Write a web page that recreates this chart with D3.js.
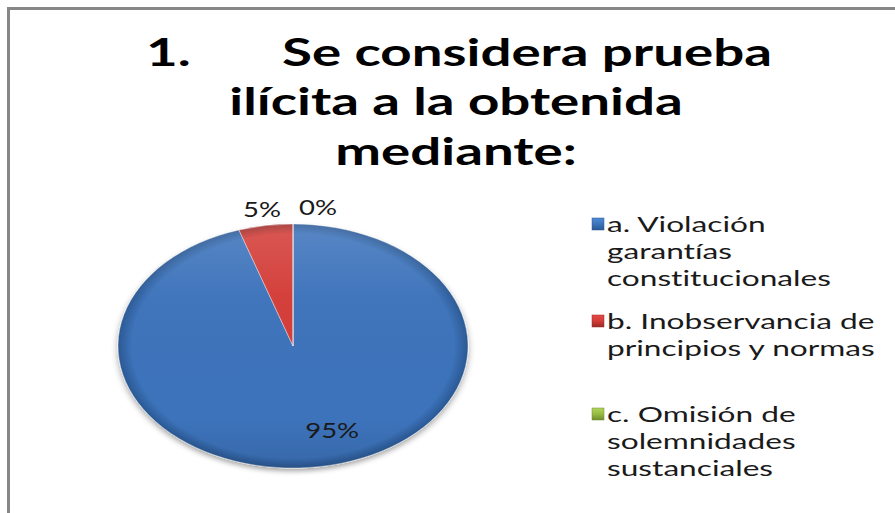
<!DOCTYPE html>
<meta charset="utf-8">
<head>
<script src="https://d3js.org/d3.v7.min.js"></script>
<style>
  body { margin: 0; background: #fff; }
  text { font-family: Lato, "Open Sans", sans-serif; font-variant-ligatures: none; }
</style>
</head>
<body>
<svg id="chart" width="895" height="513"></svg>
<script>
// data
var categories = ["a. Violación garantías constitucionales",
                  "b. Inobservancia de principios y normas",
                  "c. Omisión de solemnidades sustanciales"];
var legendLines = [["a. Violación", "garantías", "constitucionales"],
                   ["b. Inobservancia de", "principios y normas"],
                   ["c. Omisión de", "solemnidades", "sustanciales"]];
var values = [95, 5, 0];
var percentLabels = ["95%", "5%", "0%"];
var titleLines = [["1.", "Se considera prueba"], ["ilícita a la obtenida"], ["mediante:"]];

// colours: [light, mid, dark]
var colors = [["#4d8bd6", "#3c73bb", "#2a5893"],
              ["#e54a45", "#d33c37", "#9a2a27"],
              ["#b3d45c", "#98bb45", "#6f8d2c"]];

var svg = d3.select("#chart");
var defs = svg.append("defs");

// the source picture is stretched sideways; work out a horizontal scale for a font
function stretch(sample, size, weight, target) {
  var t = svg.append("text").attr("font-size", size).attr("font-weight", weight).text(sample);
  var w = t.node().getComputedTextLength();
  t.remove();
  return target / w;
}
var titleSX = stretch("Se considera prueba", 38, "bold", 490);
var legendSX = stretch("constitucionales", 22, "normal", 224);
var labelSX = stretch("95%", 21, "normal", 54);

// frame
svg.append("path")
  .attr("d", "M8.5,520 V8.5 H900")
  .attr("fill", "none")
  .attr("stroke", "#878787")
  .attr("stroke-width", 3);

// title
var title = svg.append("g");
var titleY = [66, 115, 165];
titleLines.forEach(function(line, i) {
  if (line.length > 1) {
    title.append("text")
      .attr("transform", "translate(146," + titleY[i] + ") scale(" + titleSX + ",1)")
      .attr("font-size", 38).attr("font-weight", "bold").attr("fill", "#000")
      .text(line[0]);
    title.append("text")
      .attr("transform", "translate(282," + titleY[i] + ") scale(" + titleSX + ",1)")
      .attr("font-size", 38).attr("font-weight", "bold").attr("fill", "#000")
      .text(line[1]);
  } else {
    title.append("text")
      .attr("transform", "translate(456," + titleY[i] + ") scale(" + titleSX + ",1)")
      .attr("text-anchor", "middle")
      .attr("font-size", 38).attr("font-weight", "bold").attr("fill", "#000")
      .text(line[0]);
  }
});

// pie
var cx = 293, cy = 346, rx = 175, ry = 122;
var pie = d3.pie().sort(null).value(function(d) { return d; });
var arcs = pie(values);
var arc = d3.arc().innerRadius(0).outerRadius(ry);

var shadow = defs.append("filter").attr("id", "shadow")
  .attr("x", "-20%").attr("y", "-20%").attr("width", "140%").attr("height", "140%");
shadow.append("feDropShadow").attr("dx", 0).attr("dy", 3).attr("stdDeviation", 2.5)
  .attr("flood-color", "#000").attr("flood-opacity", 0.35);

colors.forEach(function(c, i) {
  var rg = defs.append("radialGradient").attr("id", "rim" + i)
    .attr("gradientUnits", "userSpaceOnUse").attr("cx", 0).attr("cy", 0).attr("r", ry);
  rg.append("stop").attr("offset", 0).attr("stop-color", c[1]);
  rg.append("stop").attr("offset", 0.92).attr("stop-color", c[1]);
  rg.append("stop").attr("offset", 1).attr("stop-color", c[2]);
  var lg = defs.append("linearGradient").attr("id", "key" + i)
    .attr("x1", 0).attr("y1", 0).attr("x2", 0).attr("y2", 1);
  lg.append("stop").attr("offset", 0).attr("stop-color", c[0]);
  lg.append("stop").attr("offset", 0.5).attr("stop-color", c[1]);
  lg.append("stop").attr("offset", 1).attr("stop-color", c[2]);
});

var hl = defs.append("linearGradient").attr("id", "highlight")
  .attr("gradientUnits", "userSpaceOnUse").attr("x1", 0).attr("y1", -ry).attr("x2", 0).attr("y2", ry);
hl.append("stop").attr("offset", 0).attr("stop-color", "#fff").attr("stop-opacity", 0.14);
hl.append("stop").attr("offset", 0.3).attr("stop-color", "#fff").attr("stop-opacity", 0.02);
hl.append("stop").attr("offset", 0.8).attr("stop-color", "#000").attr("stop-opacity", 0);
hl.append("stop").attr("offset", 1).attr("stop-color", "#000").attr("stop-opacity", 0.1);

var pieG = svg.append("g")
  .attr("transform", "translate(" + cx + "," + cy + ") scale(" + (rx / ry) + ",1)");

pieG.append("g").attr("filter", "url(#shadow)")
  .selectAll("path")
  .data(arcs)
  .enter()
  .append("path")
  .attr("d", arc)
  .attr("fill", function(d, i) { return "url(#rim" + i + ")"; })
  .attr("stroke", "rgba(255,255,255,0.4)")
  .attr("stroke-width", 1)
  .attr("vector-effect", "non-scaling-stroke");

pieG.selectAll(".shine")
  .data(arcs)
  .enter()
  .append("path")
  .attr("class", "shine")
  .attr("d", arc)
  .attr("fill", "url(#highlight)");

// percent labels
var labelG = svg.append("g");
var prevRight = null;
arcs.forEach(function(d, i) {
  var mid = (d.startAngle + d.endAngle) / 2;
  var inside = (d.endAngle - d.startAngle) > 1;
  var f = inside ? 0.7 : 1.13;
  var x = cx + rx * f * Math.sin(mid) + (inside ? 20 : 0);
  var y = cy - ry * f * Math.cos(mid);
  var t = labelG.append("text")
    .attr("transform", "translate(" + x + "," + y + ") scale(" + labelSX + ",1)")
    .attr("text-anchor", "middle")
    .attr("dy", "0.35em")
    .attr("font-size", 21)
    .attr("fill", "#1a1a1a")
    .text(percentLabels[i]);
  if (!inside) {
    var b = t.node().getBoundingClientRect();
    if (prevRight !== null && b.left < prevRight + 12) {
      x += prevRight + 18 - b.left;
      t.attr("transform", "translate(" + x + "," + y + ") scale(" + labelSX + ",1)");
      b = t.node().getBoundingClientRect();
    }
    prevRight = b.right;
  }
});

// legend
var legend = svg.append("g");
var keyX = 592, textX = 607, lineH = 27;
var blockTop = [224, 321, 414];
legendLines.forEach(function(lines, i) {
  legend.append("rect")
    .attr("x", keyX).attr("y", blockTop[i] - 6)
    .attr("width", 12).attr("height", 12)
    .attr("fill", "url(#key" + i + ")")
    .attr("stroke", colors[i][2]).attr("stroke-width", 0.5);
  lines.forEach(function(s, j) {
    legend.append("text")
      .attr("transform", "translate(" + textX + "," + (blockTop[i] + j * lineH) + ") scale(" + legendSX + ",1)")
      .attr("dy", "0.35em")
      .attr("font-size", 22)
      .attr("fill", "#1a1a1a")
      .text(s);
  });
});
</script>
</body>
